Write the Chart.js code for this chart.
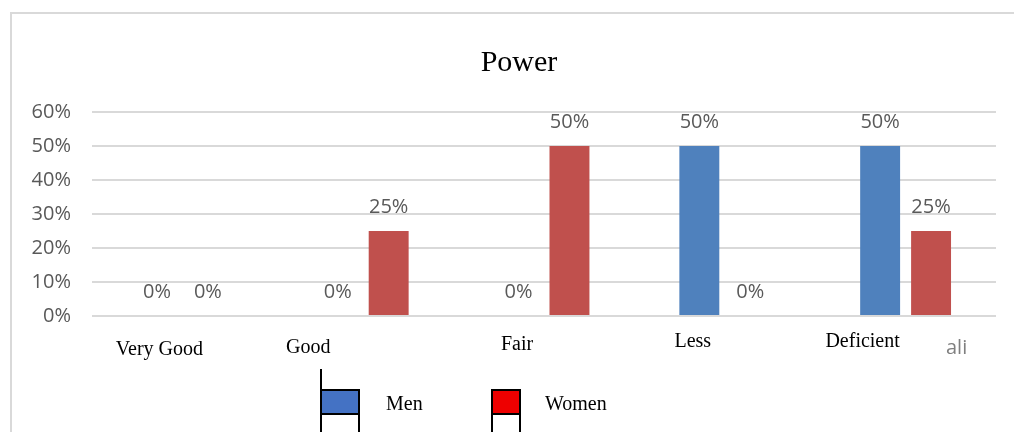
<!DOCTYPE html>
<html>
<head>
<meta charset="utf-8">
<script src="https://cdn.jsdelivr.net/npm/chart.js@4.4.1/dist/chart.umd.min.js"></script>
<style>
  html, body { margin: 0; padding: 0; background: #fff; overflow: hidden; }
  .wrap { position: relative; width: 1014px; height: 432px; }
  .frame { position: absolute; left: 10px; top: 12px; width: 1100px; height: 500px; border: 2px solid #d9d9d9; box-sizing: border-box; }
  canvas { position: absolute; left: 0; top: 0; }
  .lg { position: absolute; font-family: "Liberation Serif", "Times New Roman", serif; font-size: 20px; color: #000; line-height: 1; }
  .line { position: absolute; background: #000; width: 2px; }
  .box { position: absolute; border: 2px solid #000; box-sizing: border-box; }
</style>
</head>
<body>
<div class="wrap">
  <div class="frame"></div>
  <canvas id="chart" width="1014" height="432"></canvas>

  <!-- legend, drawn like the original -->
  <div class="line" style="left:320px; top:369px; height:70px;"></div>
  <div class="box" style="left:320px; top:389px; width:40px; height:26px; background:#4472C4;"></div>
  <div class="box" style="left:320px; top:413px; width:40px; height:30px; background:#fff;"></div>
  <div class="lg" style="left:386px; top:393px;">Men</div>

  <div class="box" style="left:491px; top:389px; width:30px; height:26px; background:#EE0000;"></div>
  <div class="box" style="left:491px; top:413px; width:30px; height:30px; background:#fff;"></div>
  <div class="lg" style="left:545px; top:393px;">Women</div>
</div>

<script>
const chartTitle = 'Power';
const categories = ['Very Good', 'Good', 'Fair', 'Less', 'Deficient'];
const men = [0, 0, 0, 50, 50];
const women = [0, 25, 50, 0, 25];
const yTicks = [0, 10, 20, 30, 40, 50, 60];

// where the (misplaced) category captions sit relative to each category centre
const labelShift = [[-23, 350], [-55, 348], [-27, 345], [-32, 342], [-43, 342]];

const valueLabels = {
  id: 'valueLabels',
  afterDatasetsDraw(chart) {
    const ctx = chart.ctx;
    ctx.save();
    ctx.font = '20px "Open Sans", sans-serif';
    ctx.fillStyle = '#595959';
    ctx.textAlign = 'center';
    ctx.textBaseline = 'middle';
    chart.data.datasets.forEach((ds, i) => {
      chart.getDatasetMeta(i).data.forEach((bar, j) => {
        ctx.fillText(ds.data[j] + '%', bar.x, bar.y - 24);
      });
    });
    ctx.restore();
  }
};

const extraText = {
  id: 'extraText',
  afterDraw(chart) {
    const ctx = chart.ctx;
    const x = chart.scales.x;
    ctx.save();
    ctx.textBaseline = 'middle';
    ctx.textAlign = 'center';
    ctx.fillStyle = '#000';

    // title, slightly right of the plot centre as in the original
    ctx.font = '30px "Liberation Serif", "Times New Roman", serif';
    ctx.fillText(chartTitle, 519, 63);

    ctx.font = '20px "Liberation Serif", "Times New Roman", serif';
    categories.forEach((c, i) => {
      ctx.fillText(c, x.getPixelForValue(i) + labelShift[i][0], labelShift[i][1]);
    });

    // leftover fragment visible at the right in the original
    ctx.font = '20px "Open Sans", sans-serif';
    ctx.fillStyle = '#7f7f7f';
    ctx.textAlign = 'left';
    ctx.fillText('ali', 946, 348);
    ctx.restore();
  }
};

new Chart(document.getElementById('chart'), {
  type: 'bar',
  data: {
    labels: categories,
    datasets: [
      { label: 'Men', data: men, backgroundColor: '#4F81BD' },
      { label: 'Women', data: women, backgroundColor: '#C0504D' }
    ]
  },
  options: {
    responsive: false,
    animation: false,
    events: [],
    layout: { padding: { left: 0, right: 18, top: 112, bottom: 116 } },
    datasets: {
      bar: { categoryPercentage: 0.5635, barPercentage: 0.784 }
    },
    scales: {
      x: {
        grid: { display: false },
        border: { display: false },
        ticks: { display: false },
        afterFit(s) { s.height = 0; }
      },
      y: {
        min: 0,
        max: 60,
        afterBuildTicks(s) { s.ticks = yTicks.map(v => ({ value: v })); },
        grid: { color: '#d9d9d9', lineWidth: 2, drawTicks: false },
        border: { display: false },
        ticks: {
          padding: 21,
          color: '#595959',
          font: { family: '"Open Sans", sans-serif', size: 20 },
          callback: v => v + '%'
        },
        afterFit(s) { s.width = 92; }
      }
    },
    plugins: {
      legend: { display: false },
      tooltip: { enabled: false },
      title: { display: false }
    }
  },
  plugins: [valueLabels, extraText]
});
</script>
</body>
</html>
